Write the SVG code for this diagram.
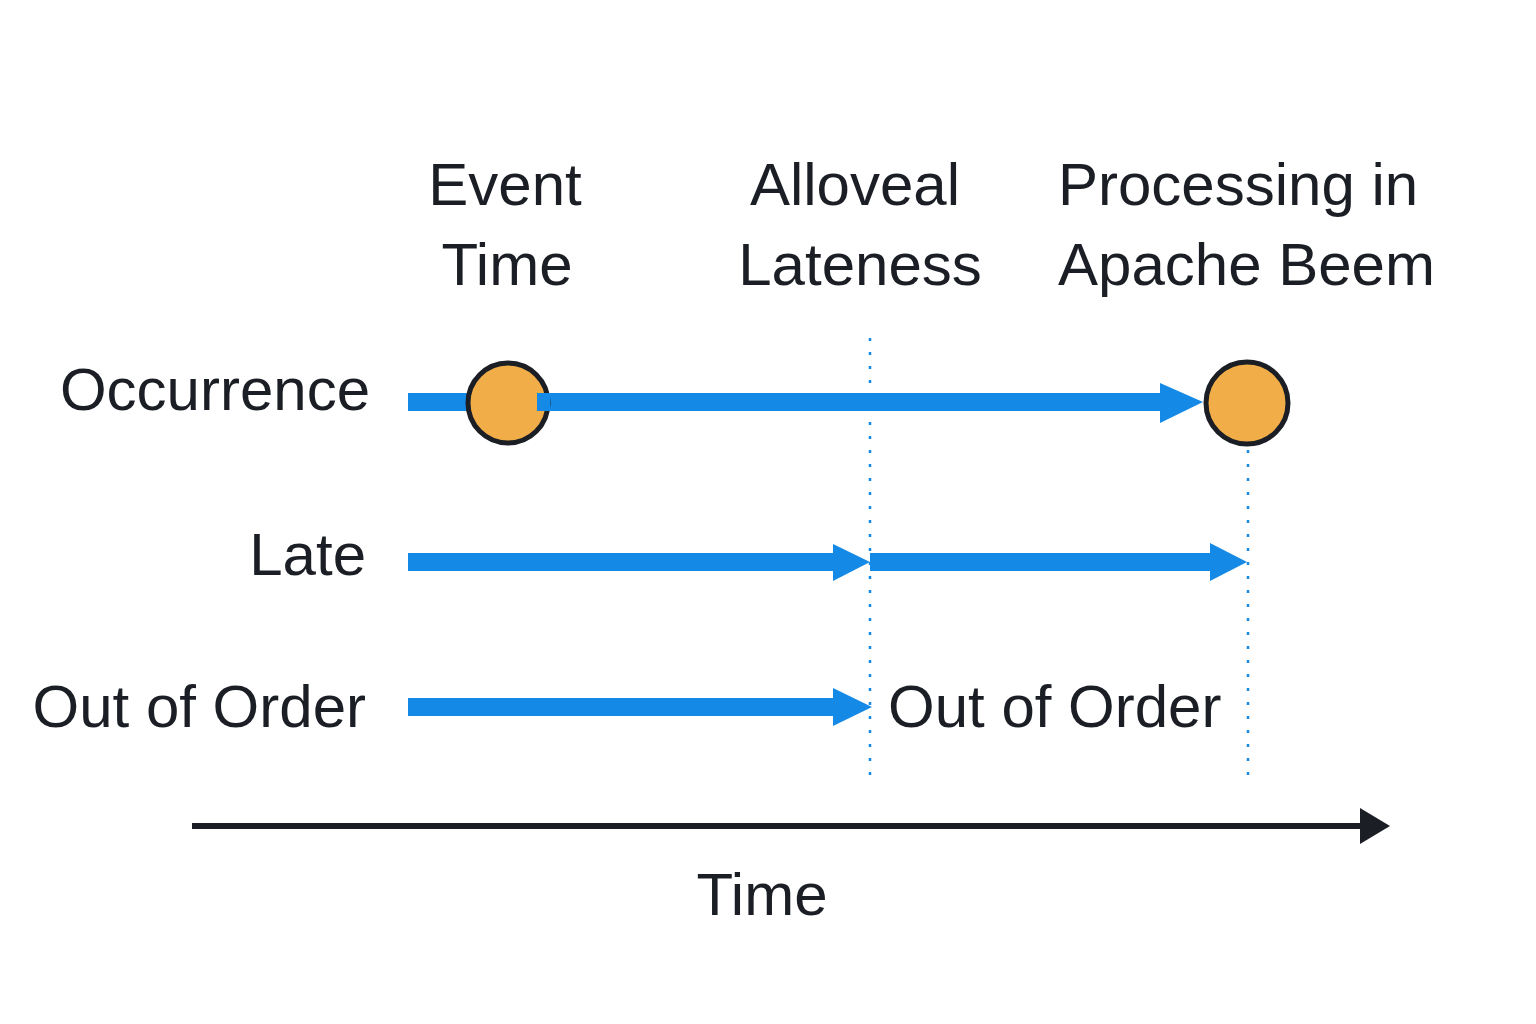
<svg xmlns="http://www.w3.org/2000/svg" width="1536" height="1024" viewBox="0 0 1536 1024">
<style>
text{font-family:"Liberation Sans",Arial,sans-serif;font-size:60px;fill:#1b1e25}
.bar{stroke:#1589e6;stroke-width:18;fill:none}
.head{fill:#1589e6}
.dot{stroke:#1589e6;stroke-width:2.5;stroke-dasharray:3 11;fill:none}
.node{fill:#f1ad48;stroke:#1b1e25;stroke-width:5}
</style>
<rect width="1536" height="1024" fill="#ffffff"/>
<g id="headers">
<text x="505" y="205" text-anchor="middle">Event</text>
<text x="507" y="285" text-anchor="middle">Time</text>
<text x="855" y="205" text-anchor="middle">Alloveal</text>
<text x="860" y="285" text-anchor="middle">Lateness</text>
<text x="1058" y="205">Processing in</text>
<text x="1058" y="285">Apache Beem</text>
</g>
<g id="row-labels">
<text x="370" y="410" text-anchor="end">Occurrence</text>
<text x="366" y="575" text-anchor="end">Late</text>
<text x="366" y="727" text-anchor="end">Out of Order</text>
</g>
<g id="guides">
<line class="dot" x1="870" y1="338" x2="870" y2="786"/>
<line class="dot" x1="1248" y1="450" x2="1248" y2="786"/>
</g>
<g id="connectors">
<line class="bar" x1="408" y1="402" x2="472" y2="402"/>
<line class="bar" x1="537" y1="402" x2="1165" y2="402"/>
<polygon class="head" points="1160,383 1203,402 1160,423"/>
<line class="bar" x1="408" y1="562" x2="840" y2="562"/>
<polygon class="head" points="833,544 870,562 833,581"/>
<line class="bar" x1="870" y1="562" x2="1215" y2="562"/>
<polygon class="head" points="1210,543 1247,562 1210,581"/>
<line class="bar" x1="408" y1="707" x2="840" y2="707"/>
<polygon class="head" points="833,688 872,707 833,726"/>
</g>
<g id="node-event">
<circle class="node" cx="508" cy="403" r="40"/>
<line class="bar" x1="537" y1="402" x2="550" y2="402"/>
</g>
<g id="node-processing">
<circle class="node" cx="1247" cy="403" r="41"/>
</g>
<g id="axis">
<line x1="192" y1="826" x2="1365" y2="826" stroke="#1b1e25" stroke-width="6"/>
<polygon points="1360,808 1390,826 1360,844" fill="#1b1e25"/>
<text x="762" y="915" text-anchor="middle">Time</text>
</g>
<text x="888" y="727">Out of Order</text>
</svg>
